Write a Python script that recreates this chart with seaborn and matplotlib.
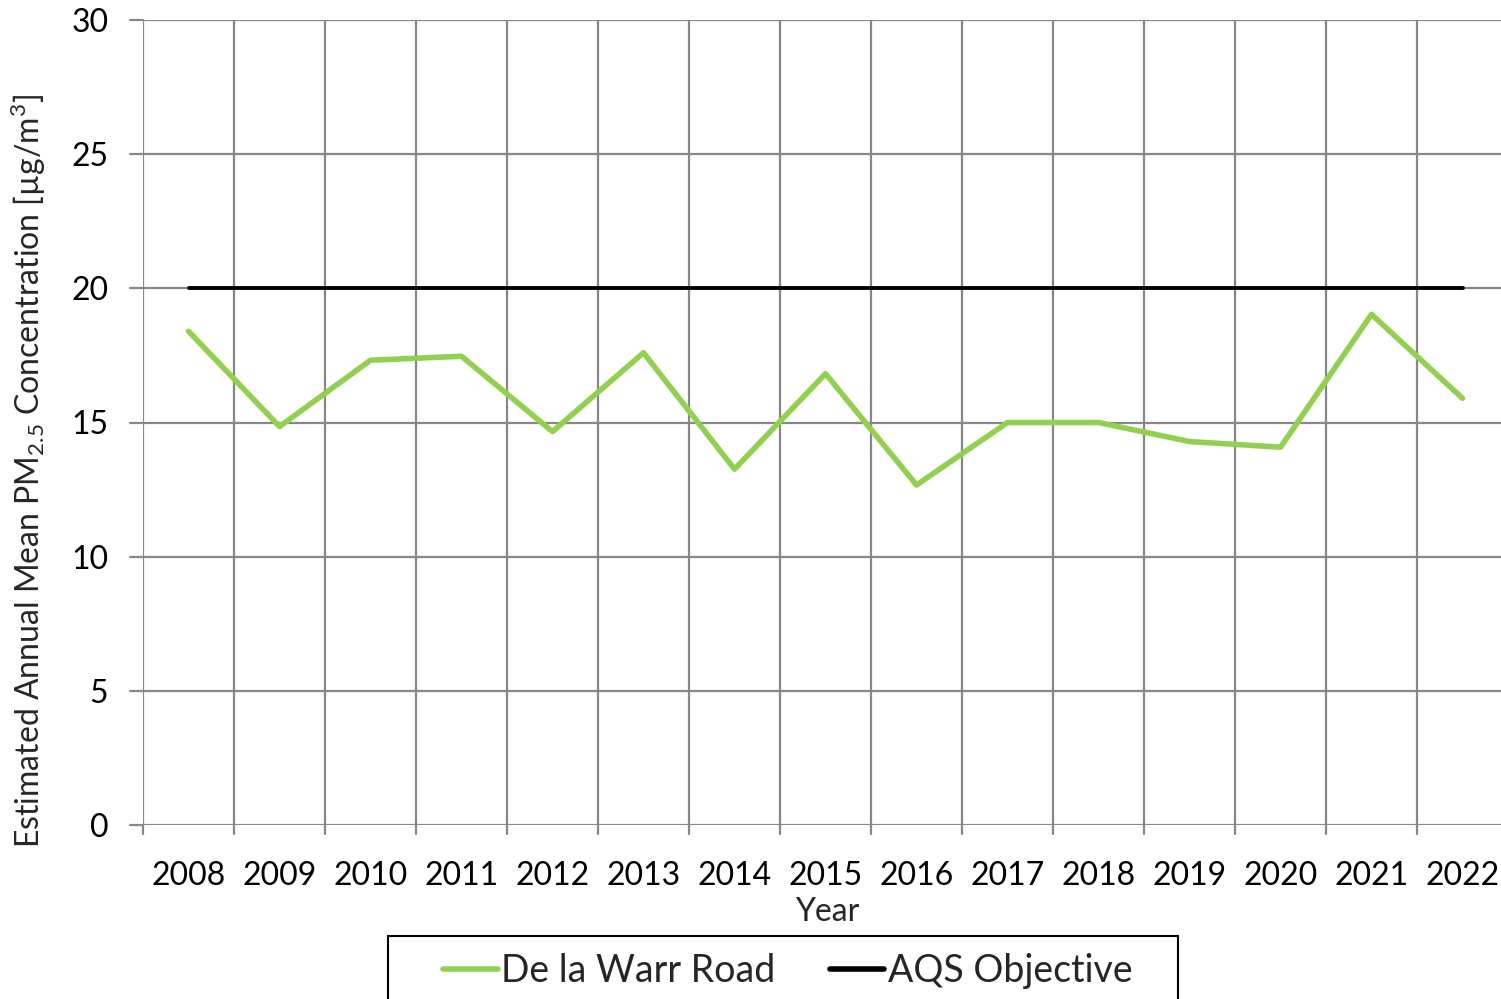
import pandas as pd
import seaborn as sns
import matplotlib.pyplot as plt
from matplotlib import font_manager
from matplotlib.patches import Rectangle

years = ['2008', '2009', '2010', '2011', '2012', '2013', '2014', '2015',
         '2016', '2017', '2018', '2019', '2020', '2021', '2022']
de_la_warr = [18.4, 14.85, 17.32, 17.47, 14.66, 17.6, 13.26, 16.82,
              12.67, 15.0, 15.0, 14.29, 14.08, 19.03, 15.9]
aqs_objective = [20] * len(years)

GREEN = '#92D050'
GRID = '#878787'

sns.set_style('white')
names = {f.name for f in font_manager.fontManager.ttflist}
main_font = 'Lato' if 'Lato' in names else 'DejaVu Sans'
plt.rcParams['font.family'] = [main_font, 'DejaVu Sans']
plt.rcParams['mathtext.fontset'] = 'custom'
plt.rcParams['mathtext.rm'] = main_font

df = pd.DataFrame({'Year': years, 'De la Warr Road': de_la_warr,
                   'AQS Objective': aqs_objective})

W, H = 1501, 999
fig = plt.figure(figsize=(W / 100, H / 100), dpi=100)
ax = fig.add_axes([143 / W, 1 - 825 / H, (1508 - 143) / W, (825 - 20) / H])

sns.lineplot(data=df, x='Year', y='De la Warr Road', color=GREEN, linewidth=4.0,
             ax=ax, label='De la Warr Road', zorder=3)
sns.lineplot(data=df, x='Year', y='AQS Objective', color='black', linewidth=2.8,
             ax=ax, label='AQS Objective', zorder=3)

ax.set_xlim(-0.5, len(years) - 0.5)
ax.set_ylim(0, 30)
ax.set_yticks(range(0, 31, 5))
ax.set_xticks(range(len(years)))
ax.set_xticklabels(years)

# category boundary gridlines, like the spreadsheet chart
for b in [i - 0.5 for i in range(len(years) + 1)]:
    ax.axvline(b, color=GRID, linewidth=1.6, zorder=1)
    ax.plot([b, b], [0, -0.35], color=GRID, linewidth=1.6, clip_on=False, zorder=1)
for yv in range(0, 31, 5):
    ax.axhline(yv, color=GRID, linewidth=1.6, zorder=1)
    ax.plot([-0.64, -0.5], [yv, yv], color=GRID, linewidth=1.6, clip_on=False, zorder=1)

for s in ax.spines.values():
    s.set_visible(False)
ax.tick_params(axis='both', length=0, labelsize=23, colors='black')
ax.tick_params(axis='x', pad=26)
ax.tick_params(axis='y', pad=25)

ax.set_xlabel('Year', fontsize=23)
ax.xaxis.set_label_coords((827 - 143) / 1365, -(897 - 825) / 805)
ax.set_ylabel(r'Estimated Annual Mean PM$_{\mathregular{2.5}}$ Concentration [µg/m$^{\mathregular{3}}$]',
              fontsize=23)
ax.yaxis.set_label_coords((48 - 143) / 1365, (825 - 471) / 805)

ax.legend_.remove()
handles, labels = ax.get_legend_handles_labels()
leg = fig.legend(handles, labels, loc='center', bbox_to_anchor=(788 / W, 1 - 971 / H),
                 ncol=2, frameon=False, fontsize=27, handlelength=1.45,
                 handletextpad=0.1, columnspacing=1.45, borderpad=0, borderaxespad=0)
for h in leg.legend_handles:
    h.set_linewidth(4.0)

# legend box, cut by the bottom edge as in the original
fig.patches.append(Rectangle((388 / W, -0.05), (1178 - 388) / W, 0.05 + 1 - 936 / H,
                             transform=fig.transFigure, fill=False, edgecolor='black',
                             linewidth=1.5, zorder=5))

fig.savefig('out.png', dpi=100)
